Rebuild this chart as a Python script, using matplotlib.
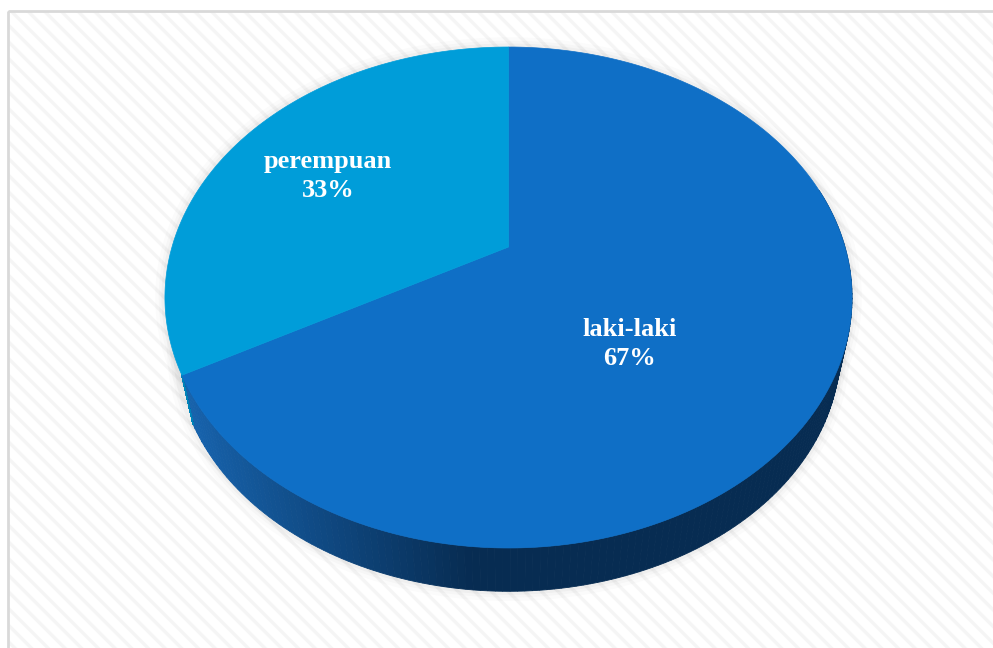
import numpy as np
import matplotlib.pyplot as plt
from matplotlib.patches import Polygon, Rectangle
from matplotlib.colors import to_rgb

labels = ['laki-laki', 'perempuan']
values = [67, 33]
top_colors = ['#0F6FC6', '#009DD9']
side_left = ['#1763ad', '#0083b8']
side_right = ['#072c52', '#005f8a']

# perspective set-up (pixels)
cx, cy = 508.5, 247.0
a, b, k = 336.5, 240.3, 0.2016
Px, Py, s = 508.5, 1800.0, 0.9654


def proj(theta, r=1.0, drop=False):
    u = r * np.cos(theta)
    v = r * np.sin(theta)
    w = 1 + k * v
    X = cx + a * u / w
    Y = cy - b * v / w
    if drop:
        X = Px + s * (X - Px)
        Y = Py + s * (Y - Py)
    return X, Y


plt.rcParams['hatch.linewidth'] = 2.4
fig = plt.figure(figsize=(9.93, 6.48), dpi=100)
ax = fig.add_axes([0, 0, 1, 1])
ax.set_xlim(0, 993)
ax.set_ylim(648, 0)
ax.axis('off')

# striped background + frame
ax.add_patch(Rectangle((8, 11), 990, 645, facecolor='white', edgecolor='#f5f5f5',
                       hatch='\\\\', linewidth=0, zorder=0))
ax.add_patch(Rectangle((8, 11), 990, 645, facecolor='none', edgecolor='#d9d9d9',
                       linewidth=2, zorder=1))

# soft shadow around the silhouette
t = np.linspace(0, 2 * np.pi, 400)
tx, ty = proj(t)
bx, by = proj(t, drop=True)
for lw, al in [(14, 0.03), (9, 0.04), (5, 0.06)]:
    ax.plot(tx, ty, color='gray', lw=lw, alpha=al, zorder=2, solid_capstyle='round')
    ax.plot(bx, by, color='gray', lw=lw, alpha=al, zorder=2, solid_capstyle='round')

# slice angles: clockwise from 12 o'clock
total = sum(values)
starts = []
ang = np.pi / 2
for val in values:
    end = ang - 2 * np.pi * val / total
    starts.append((ang, end))
    ang = end

front_lo, front_hi = -2.64, 0.25
for i, (t0, t1) in enumerate(starts):
    # side strips (front only)
    lo, hi = max(t1, front_lo), min(t0, front_hi)
    if lo < hi:
        th = np.linspace(lo, hi, 160)
        c0 = np.array(to_rgb(side_left[i]))
        c1 = np.array(to_rgb(side_right[i]))
        for j in range(len(th) - 1):
            seg = np.linspace(th[j], th[j + 1], 3)
            x1, y1 = proj(seg)
            x2, y2 = proj(seg[::-1], drop=True)
            xm = x1.mean()
            f = np.clip((xm - 185) / (470 - 185), 0, 1)
            col = c0 + (c1 - c0) * f
            ax.add_patch(Polygon(np.column_stack([np.r_[x1, x2], np.r_[y1, y2]]),
                                 facecolor=col, edgecolor=col, lw=0.6, zorder=3))

for i, (t0, t1) in enumerate(starts):
    th = np.linspace(t0, t1, 300)
    x, y = proj(th)
    pts = np.column_stack([np.r_[cx, x], np.r_[cy, y]])
    ax.add_patch(Polygon(pts, facecolor=top_colors[i], edgecolor=top_colors[i],
                         lw=0.5, zorder=4))

label_pos = [(630, 344), (328, 176)]
for i, (lx, ly) in enumerate(label_pos):
    ax.text(lx, ly, '%s\n%d%%' % (labels[i], round(100 * values[i] / total)),
            ha='center', va='center', color='white', fontsize=19,
            fontweight='bold', family='Liberation Serif', linespacing=1.3, zorder=5)

fig.savefig('out.png', dpi=100)
